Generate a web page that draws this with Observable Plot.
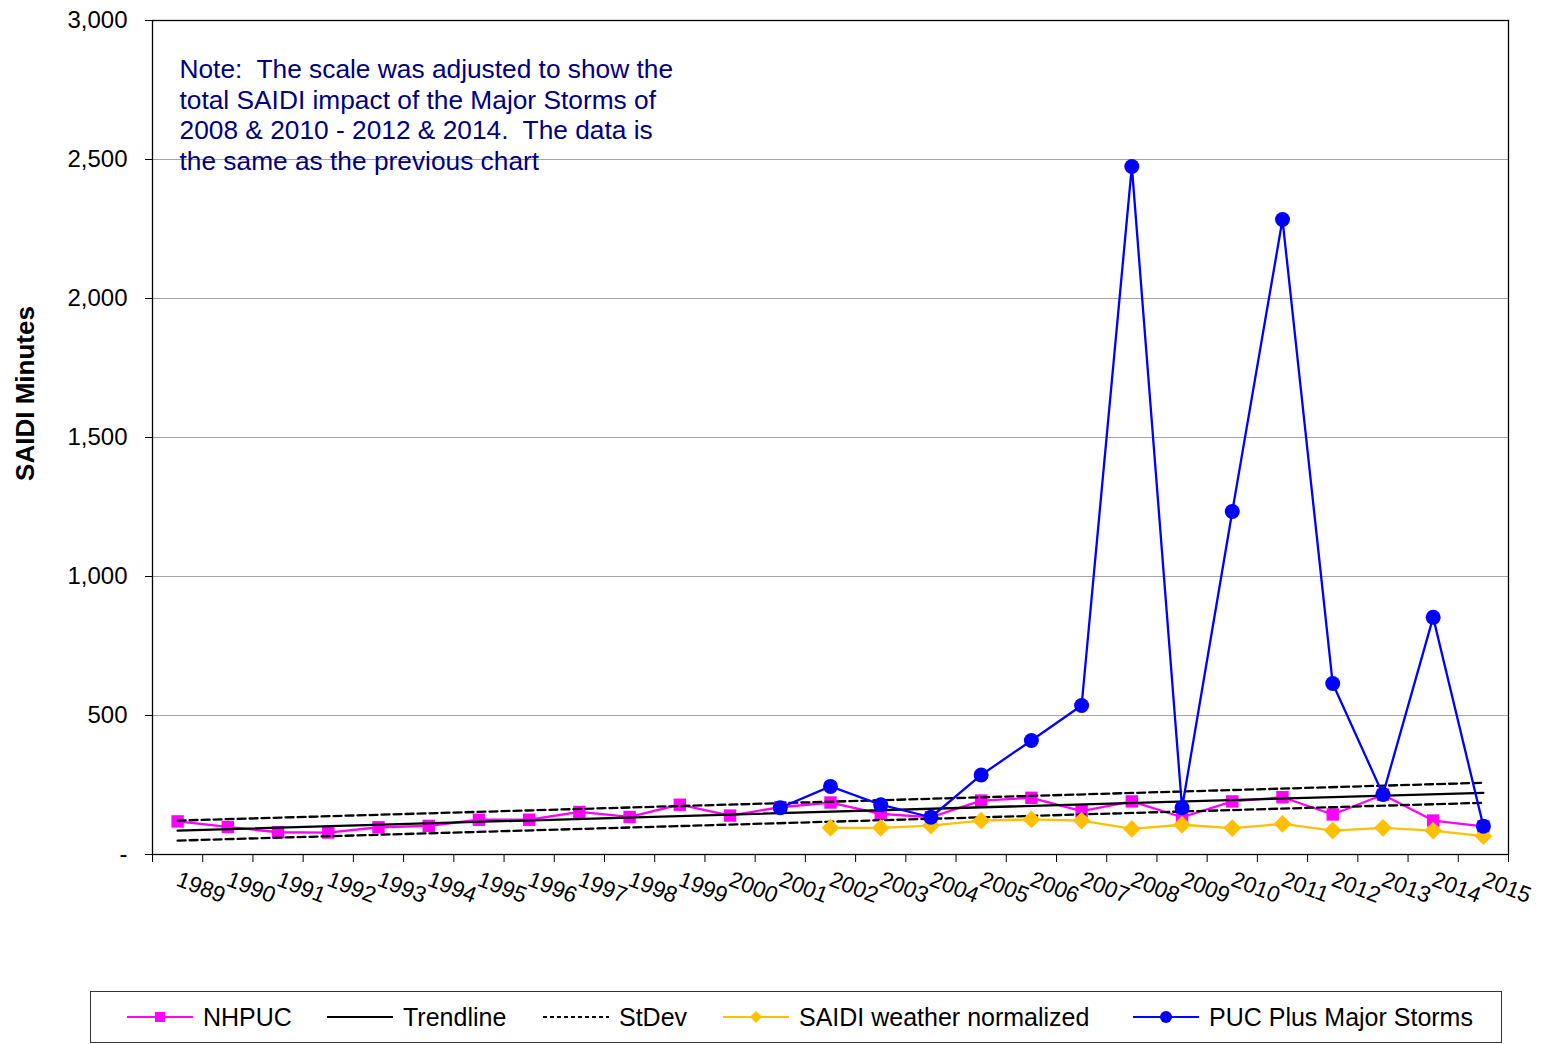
<!DOCTYPE html>
<html><head><meta charset="utf-8">
<script src="https://cdn.jsdelivr.net/npm/d3@7"></script>
<script src="https://cdn.jsdelivr.net/npm/@observablehq/plot@0.6"></script>
<style>
body{margin:0;background:#fff;font-family:"Liberation Sans",Arial,sans-serif;}
#wrap{position:relative;width:1543px;height:1044px;overflow:hidden;}
#legend{position:absolute;left:90px;top:991px;width:1412px;height:52px;border:1px solid #333;box-sizing:border-box;background:#fff;}
.item{position:absolute;top:0;height:50px;display:flex;align-items:center;font-size:25px;color:#000;white-space:nowrap;}
.item svg{margin-right:8px;}
</style></head>
<body><div id="wrap"><div id="chart"></div><div id="legend"></div></div>
<script>
const years = [1989,1990,1991,1992,1993,1994,1995,1996,1997,1998,1999,2000,2001,2002,2003,2004,2005,2006,2007,2008,2009,2010,2011,2012,2013,2014,2015];
const nhpuc = [119,99,80,79,98,103,125,125,153,135,179,140,170,187,146,134,194,204,156,191,134,191,206,144,215,122,101];
const normalized = [null,null,null,null,null,null,null,null,null,null,null,null,null,96,96,104,122,126,122,92,107,95,110,86,96,86,66];
const storms = [null,null,null,null,null,null,null,null,null,null,null,null,168,245,179,134,286,410,536,2475,168,1234,2284,615,216,853,102];
const trendYears = [1989, 2015];
const trendValues = [86, 222];
const stdev = 36;
const yTicks = [0,500,1000,1500,2000,2500,3000];
const gridTicks = [500,1000,1500,2000,2500];
const noteText = "Note:  The scale was adjusted to show the\ntotal SAIDI impact of the Major Storms of\n2008 & 2010 - 2012 & 2014.  The data is\nthe same as the previous chart";
const seriesNames = ["NHPUC","Trendline","StDev","SAIDI weather normalized","PUC Plus Major Storms"];
const colors = {nhpuc:"#ff00ff", trend:"#000000", normalized:"#ffc000", storms:"#0000ff"};

const rows = years.map((y,i)=>({year:y, nhpuc:nhpuc[i], normalized:normalized[i], storms:storms[i]}));
const trendRows = trendYears.map((y,i)=>({year:y, trend:trendValues[i], upper:trendValues[i]+stdev, lower:trendValues[i]-stdev}));
const boundaries = d3.range(years[0]-0.5, years[years.length-1]+1, 1);

const chart = Plot.plot({
  width:1543, height:985,
  marginLeft:152, marginRight:35, marginTop:20, marginBottom:131,
  style:{fontFamily:"Liberation Sans, Arial, sans-serif", background:"#fff"},
  x:{type:"linear", domain:[years[0]-0.5, years[years.length-1]+0.5]},
  y:{domain:[0,3000]},
  marks:[
    Plot.gridY({ticks:gridTicks, stroke:"#a6a6a6", strokeOpacity:1, strokeWidth:1.2}),
    Plot.axisY({ticks:yTicks, tickFormat:d=>d===0?"-":d3.format(",")(d), tickSize:7, tickPadding:18, fontSize:24, label:null, stroke:"#000"}),
    Plot.axisX({ticks:boundaries, tickSize:8, tickFormat:()=>"", label:null}),
    Plot.axisX({ticks:years, tickSize:0, tickPadding:24, tickRotate:21, tickFormat:d=>String(d), fontSize:22.5, label:null}),
    Plot.frame({stroke:"#000", strokeWidth:1.3}),
    Plot.text([noteText], {frameAnchor:"top-left", dx:27, dy:36, lineAnchor:"top", textAnchor:"start", fontSize:26.3, lineHeight:1.16, fill:"#000080"}),
    Plot.text(["SAIDI Minutes"], {frameAnchor:"left", rotate:-90, dx:-127, dy:-44, textAnchor:"middle", fontSize:26, fontWeight:"bold", fill:"#000"}),
    Plot.line(rows, {x:"year", y:"nhpuc", stroke:colors.nhpuc, strokeWidth:2.3}),
    Plot.dot(rows, {x:"year", y:"nhpuc", symbol:"square", r:7, fill:colors.nhpuc}),
    Plot.line(trendRows, {x:"year", y:"trend", stroke:"#000", strokeWidth:2.3}),
    Plot.line(trendRows, {x:"year", y:"upper", stroke:"#000", strokeWidth:2.3, strokeDasharray:"8,4"}),
    Plot.line(trendRows, {x:"year", y:"lower", stroke:"#000", strokeWidth:2.3, strokeDasharray:"8,4"}),
    Plot.line(rows.filter(d=>d.normalized!=null), {x:"year", y:"normalized", stroke:colors.normalized, strokeWidth:2.3}),
    Plot.dot(rows.filter(d=>d.normalized!=null), {x:"year", y:"normalized", symbol:"diamond2", r:8, fill:colors.normalized}),
    Plot.line(rows.filter(d=>d.storms!=null), {x:"year", y:"storms", stroke:colors.storms, strokeWidth:2.3}),
    Plot.dot(rows.filter(d=>d.storms!=null), {x:"year", y:"storms", symbol:"circle", r:7.5, fill:colors.storms})
  ]
});
document.getElementById("chart").appendChild(chart);

// legend
const legendItems = [
  {name:seriesNames[0], color:colors.nhpuc, marker:"square", dash:null, left:36},
  {name:seriesNames[1], color:"#000", marker:null, dash:null, left:236},
  {name:seriesNames[2], color:"#000", marker:null, dash:"4,3", left:452},
  {name:seriesNames[3], color:colors.normalized, marker:"diamond", dash:null, left:632},
  {name:seriesNames[4], color:colors.storms, marker:"circle", dash:null, left:1042}
];
const legend = document.getElementById("legend");
for (const it of legendItems) {
  const div = document.createElement("div");
  div.className = "item";
  div.style.left = it.left + "px";
  let m = "";
  if (it.marker==="square") m = `<rect x="28" y="5" width="10" height="10" fill="${it.color}"/>`;
  if (it.marker==="diamond") m = `<path d="M33,4 L39,10 L33,16 L27,10 Z" fill="${it.color}"/>`;
  if (it.marker==="circle") m = `<circle cx="33" cy="10" r="6" fill="${it.color}"/>`;
  div.innerHTML = `<svg width="68" height="20"><line x1="0" y1="10" x2="66" y2="10" stroke="${it.color}" stroke-width="2"${it.dash?` stroke-dasharray="${it.dash}"`:""}/>${m}</svg><span>${it.name}</span>`;
  legend.appendChild(div);
}
</script></body></html>
